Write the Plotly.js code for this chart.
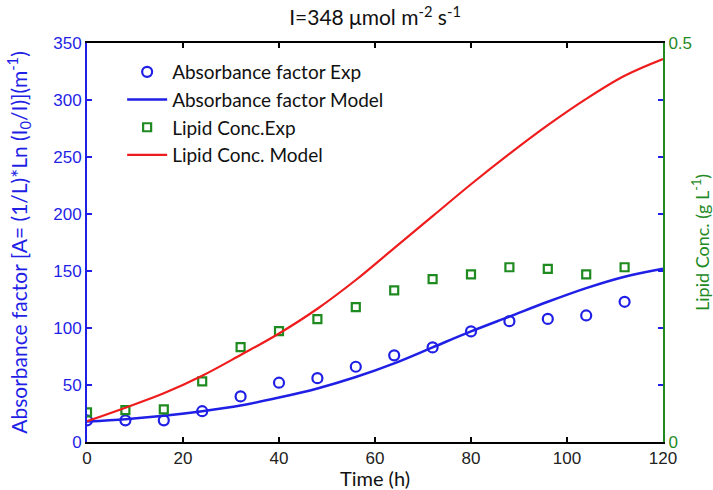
<!DOCTYPE html>
<html>
<head>
<meta charset="utf-8">
<script src="https://cdn.plot.ly/plotly-3.0.1.min.js"></script>
<style>html,body{margin:0;padding:0;background:#fff;}#chart{width:713px;height:490px;}</style>
</head>
<body>
<div id="chart"></div>
<script>
// Experimental sampling times (h)
const expTime = [0, 8, 16, 24, 32, 40, 48, 56, 64, 72, 80, 88, 96, 104, 112];
// Absorbance factor, experimental (m^-1)
const absExp = [19, 19, 19, 27, 40, 52, 56, 66, 76, 83, 97, 106, 108, 111, 123];
// Lipid concentration, experimental (g/L)
const lipidExp = [0.037, 0.040, 0.041, 0.076, 0.119, 0.139, 0.154, 0.169, 0.190, 0.204, 0.210, 0.219, 0.217, 0.210, 0.219];

// Model time grid (h)
const modelTime = [0, 8, 16, 24, 32, 40, 48, 56, 64, 72, 80, 88, 96, 104, 112, 120];
// Absorbance factor, model (m^-1)
const absModel = [18, 20, 23, 27, 32, 39, 47, 57, 69, 83, 97, 110, 123, 135, 145, 152];
// Lipid concentration, model (g/L)
const lipidModel = [0.026, 0.043, 0.061, 0.083, 0.109, 0.136, 0.167, 0.203, 0.243, 0.283, 0.323, 0.361, 0.397, 0.430, 0.459, 0.480];

const xTicks = [0, 20, 40, 60, 80, 100, 120];

const BLUE = '#1f1fe6';
const GREEN = '#1f8a1f';
const RED = '#ee1c1c';
const TXT = 'Lato, "Open Sans", sans-serif';
const TICKF = '"Liberation Sans", Arial, sans-serif';

const traces = [
  {x: expTime, y: absExp, type: 'scatter', mode: 'markers', name: 'Absorbance factor Exp',
   marker: {symbol: 'circle-open', size: 10, color: BLUE, line: {width: 2.2, color: BLUE}}, yaxis: 'y'},
  {x: modelTime, y: absModel, type: 'scatter', mode: 'lines', name: 'Absorbance factor Model',
   line: {color: BLUE, width: 2.5, shape: 'spline', smoothing: 1}, yaxis: 'y'},
  {x: expTime, y: lipidExp, type: 'scatter', mode: 'markers', name: 'Lipid Conc.Exp',
   marker: {symbol: 'square-open', size: 8, color: GREEN, line: {width: 2.2, color: GREEN}}, yaxis: 'y2'},
  {x: modelTime, y: lipidModel, type: 'scatter', mode: 'lines', name: 'Lipid Conc. Model',
   line: {color: RED, width: 2.2, shape: 'spline', smoothing: 1}, yaxis: 'y2'},
  {x: [null], y: [null], yaxis: 'y3', showlegend: false, hoverinfo: 'skip', mode: 'lines'}
];

const layout = {
  width: 713, height: 490,
  margin: {l: 87, r: 50, t: 43, b: 48},
  paper_bgcolor: '#ffffff', plot_bgcolor: '#ffffff',
  showlegend: true,
  title: {text: 'I=348 μmol m<sup>-2</sup> s<sup>-1</sup>', x: 0.526, xanchor: 'center', y: 0.963, yanchor: 'middle',
          font: {family: TXT, size: 21, color: '#111'}},
  xaxis: {range: [0, 120], tickvals: xTicks, ticktext: xTicks.map(String), ticks: 'inside', ticklen: 5,
          tickcolor: '#000', tickwidth: 1.5, showline: true, linecolor: '#000', linewidth: 2, mirror: 'ticks',
          showgrid: false, zeroline: false, tickfont: {family: TICKF, size: 17, color: '#222'},
          title: {text: 'Time (h)', font: {family: TXT, size: 20, color: '#111'}, standoff: 6}},
  yaxis: {range: [0, 350], dtick: 50, ticks: 'inside', ticklen: 5, tickcolor: BLUE, tickwidth: 1.5,
          showline: true, linecolor: BLUE, linewidth: 2, showgrid: false, zeroline: false,
          tickfont: {family: TICKF, size: 17, color: BLUE},
          title: {text: 'Absorbance factor [A= (1/L)*Ln (I<sub>0</sub>/I)](m<sup>-1</sup>)',
                  font: {family: TXT, size: 21, color: BLUE}, standoff: 20}},
  yaxis2: {range: [0, 0.5], tickvals: [0, 0.5], ticktext: ['0', '0.5'], overlaying: 'y', side: 'right',
           ticks: 'inside', ticklen: 5, tickcolor: GREEN, tickwidth: 1.5,
           showline: true, linecolor: GREEN, linewidth: 2, showgrid: false, zeroline: false,
           tickfont: {family: TICKF, size: 17, color: GREEN},
           title: {text: 'Lipid Conc. (g L<sup>-1</sup>)', font: {family: TXT, size: 18, color: GREEN}, standoff: 8}},
  yaxis3: {range: [0, 350], dtick: 50, overlaying: 'y', side: 'right', ticks: 'inside', ticklen: 5,
           tickcolor: BLUE, tickwidth: 1.5, showticklabels: false, showline: false, showgrid: false, zeroline: false},
  legend: {x: 0.061, y: 0.975, xanchor: 'left', yanchor: 'top', bgcolor: 'rgba(0,0,0,0)',
           font: {family: TXT, size: 19, color: '#111'}, itemwidth: 40}
};

Plotly.newPlot('chart', traces, layout, {staticPlot: true, displayModeBar: false});
</script>
</body>
</html>
